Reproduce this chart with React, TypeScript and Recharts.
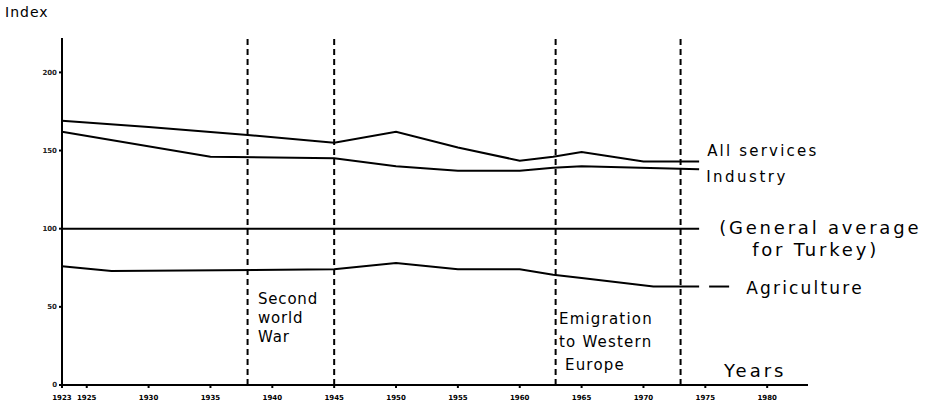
import { LineChart, Line, XAxis, YAxis, ReferenceLine } from 'recharts'

// x ticks (years) and event markers
const YEAR_TICKS = [1923, 1925, 1930, 1935, 1940, 1945, 1950, 1955, 1960, 1965, 1970, 1975, 1980]
const INDEX_TICKS = [0, 50, 100, 150, 200]
const EVENT_YEARS = [1938, 1945, 1962.9, 1973]

// series
const servicesYears = [1923, 1930, 1938, 1945, 1950, 1955, 1960, 1962.7, 1965, 1970, 1974.5]
const servicesIndex = [169, 165, 160, 155, 162, 152, 143.5, 146, 149, 143, 143]

const industryYears = [1923, 1935, 1945, 1950, 1955, 1960, 1962.7, 1965, 1974.5]
const industryIndex = [162, 146, 145, 140, 137, 137, 139, 140, 138]

const averageYears = [1923, 1974.5]
const averageIndex = [100, 100]

const agricultureYears = [1923, 1927, 1945, 1950, 1955, 1960, 1962.7, 1965, 1970.8, 1974.5]
const agricultureIndex = [76, 73, 74, 78, 74, 74, 70.5, 68.5, 63, 63]

const zip = (xs: number[], ys: number[]) => xs.map((year, i) => ({ year, v: ys[i] }))

const FONT = '"DejaVu Sans", sans-serif'

function endLabel(lines: string[], last: number, dx: number, dy: number, size: number, spacing: number, dash = false) {
  return (p: any) => {
    if (p.index !== last) return null
    return (
      <g>
        {dash && <line x1={p.x + 10} x2={p.x + 30} y1={p.y} y2={p.y} stroke="#000" strokeWidth={2} />}
        {lines.map((t, i) => (
          <text
            key={i}
            x={p.x + dx + (i > 0 ? 33 : 0)}
            y={p.y + dy + i * 22}
            fontSize={size}
            fontFamily={FONT}
            fill="#000"
            dominantBaseline="middle"
            letterSpacing={spacing}
          >
            {t}
          </text>
        ))}
      </g>
    )
  }
}

const lineProps = {
  dataKey: 'v',
  type: 'linear' as const,
  stroke: '#000',
  strokeWidth: 2,
  dot: false,
  isAnimationActive: false,
}

export default function App() {
  const services = zip(servicesYears, servicesIndex)
  const industry = zip(industryYears, industryIndex)
  const average = zip(averageYears, averageIndex)
  const agriculture = zip(agricultureYears, agricultureIndex)

  return (
    <div style={{ position: 'absolute', left: 0, top: 0, width: 938, height: 411, background: '#fff', fontFamily: FONT }}>
      <LineChart width={938} height={411} margin={{ top: 38, right: 130, bottom: 0, left: 0 }}>
        <XAxis
          dataKey="year"
          type="number"
          domain={[1923, 1983.3]}
          ticks={YEAR_TICKS}
          allowDuplicatedCategory={false}
          height={26}
          stroke="#000"
          strokeWidth={2}
          tickSize={3}
          tickMargin={7}
          tick={{ fontSize: 7, fill: '#000', fontWeight: 700, fontFamily: FONT }}
        />
        <YAxis
          type="number"
          domain={[0, 222]}
          ticks={INDEX_TICKS}
          width={62}
          stroke="#000"
          strokeWidth={2}
          tickSize={3}
          tick={{ fontSize: 7, fill: '#222', fontWeight: 700, fontFamily: FONT }}
        />
        {EVENT_YEARS.map(y => (
          <ReferenceLine key={y} x={y} stroke="#000" strokeWidth={2} strokeDasharray="6 4" />
        ))}
        <Line {...lineProps} data={services} label={endLabel(['All services'], services.length - 1, 8, -10, 15, 2.2)} />
        <Line {...lineProps} data={industry} label={endLabel(['Industry'], industry.length - 1, 7, 8, 15, 2.5)} />
        <Line
          {...lineProps}
          data={average}
          label={endLabel(['(General average', 'for Turkey)'], average.length - 1, 20, 0, 18, 2.8)}
        />
        <Line
          {...lineProps}
          data={agriculture}
          label={endLabel(['Agriculture'], agriculture.length - 1, 47, 2, 17, 2.2, true)}
        />
      </LineChart>

      <div style={{ position: 'absolute', left: 5, top: 4, fontSize: 14, letterSpacing: 1 }}>Index</div>
      <div style={{ position: 'absolute', left: 258, top: 290, fontSize: 15, lineHeight: '19px', letterSpacing: 0.8 }}>
        Second
        <br />
        world
        <br />
        War
      </div>
      <div style={{ position: 'absolute', left: 559, top: 308, fontSize: 15, lineHeight: '23px', letterSpacing: 1.2 }}>
        Emigration
        <br />
        to Western
        <br />
        &nbsp;Europe
      </div>
      <div style={{ position: 'absolute', left: 724, top: 360, fontSize: 18, letterSpacing: 3 }}>Years</div>
    </div>
  )
}
